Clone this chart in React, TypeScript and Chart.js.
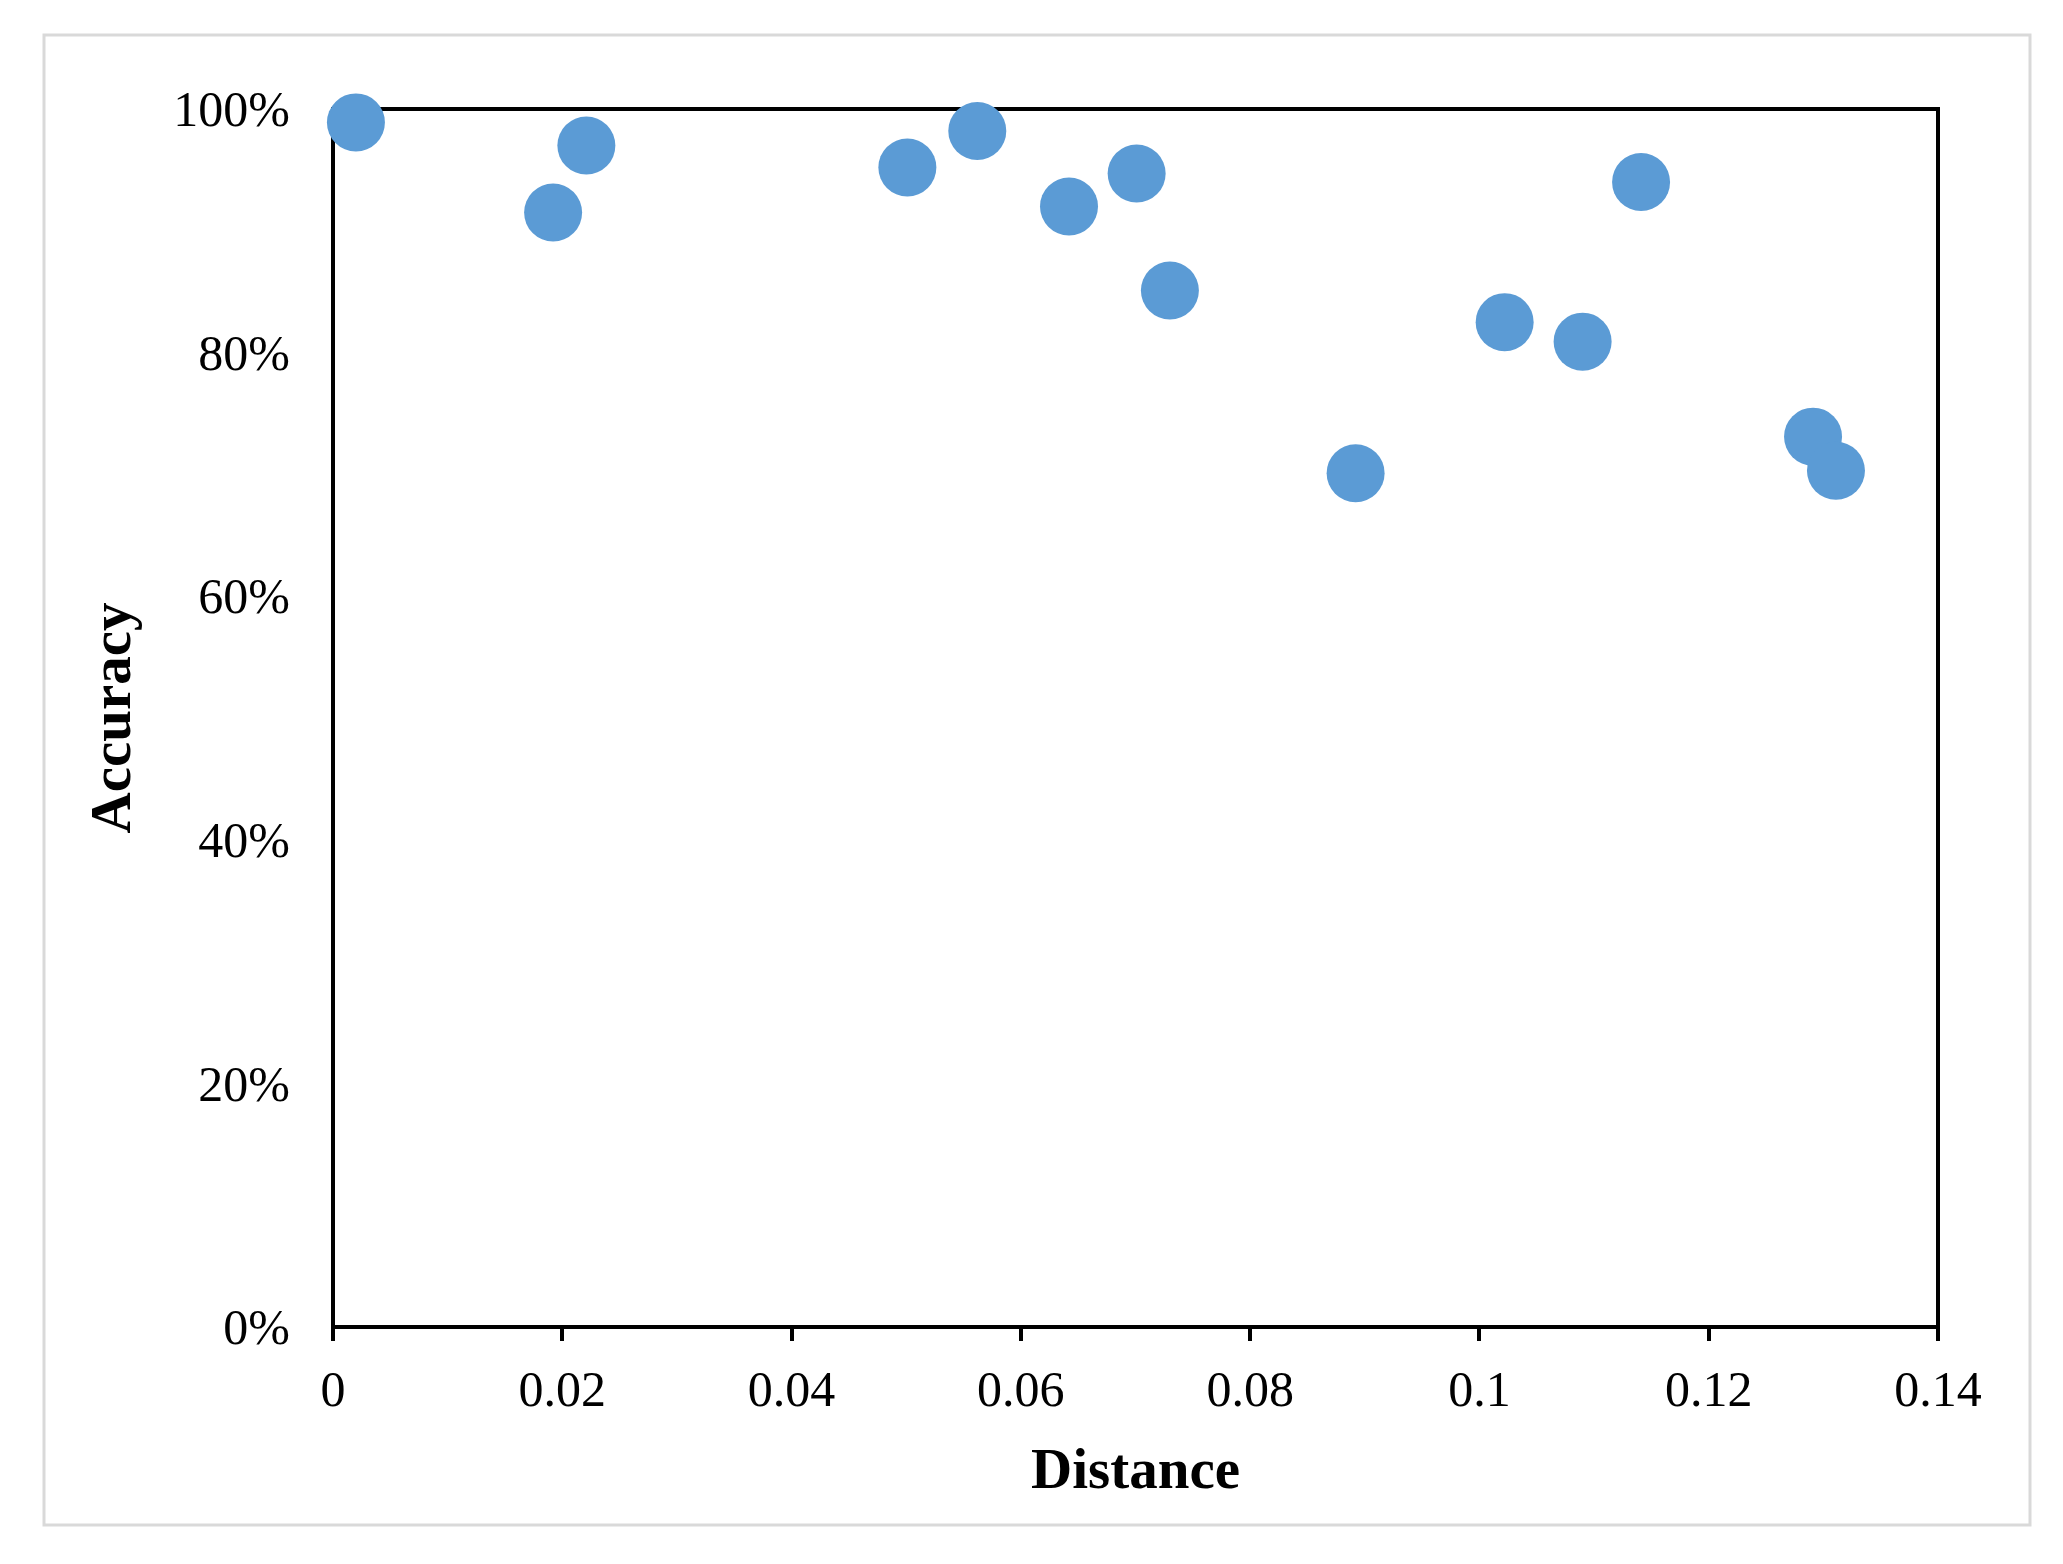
import React, { useEffect, useRef } from "react";
import { Chart, registerables } from "chart.js";

Chart.register(...registerables);

// Data
const distance = [0.002, 0.0192, 0.0221, 0.0501, 0.0562, 0.0642, 0.0701, 0.073, 0.0892, 0.1022, 0.109, 0.1141, 0.1291, 0.1311];
const accuracy = [98.9, 91.5, 97.0, 95.2, 98.2, 92.0, 94.7, 85.1, 70.1, 82.5, 80.9, 94.0, 73.1, 70.3];

const xTickValues = [0, 0.02, 0.04, 0.06, 0.08, 0.1, 0.12, 0.14];
const xTickLabels = ["0", "0.02", "0.04", "0.06", "0.08", "0.1", "0.12", "0.14"];
const yTickValues = [0, 20, 40, 60, 80, 100];
const yTickLabels = ["0%", "20%", "40%", "60%", "80%", "100%"];

const xTitle = "Distance";
const yTitle = "Accuracy";

const FONT = '"Liberation Serif", "Times New Roman", serif';
const POINT_COLOR = "#5B9BD5";

const W = 2063;
const H = 1564;

const framePlugin = {
  id: "frame",
  beforeDraw(chart: any) {
    const ctx = chart.ctx;
    ctx.save();
    ctx.fillStyle = "#ffffff";
    ctx.fillRect(0, 0, chart.width, chart.height);
    ctx.strokeStyle = "#d9d9d9";
    ctx.lineWidth = 3;
    ctx.strokeRect(44, 35, 1986, 1490);
    ctx.restore();
  },
  beforeDatasetsDraw(chart: any) {
    const { ctx, chartArea } = chart;
    ctx.save();
    ctx.strokeStyle = "#000000";
    ctx.lineWidth = 4;
    ctx.strokeRect(chartArea.left, chartArea.top, chartArea.right - chartArea.left, chartArea.bottom - chartArea.top);
    ctx.restore();
  },
};

export default function App() {
  const ref = useRef<HTMLCanvasElement | null>(null);

  useEffect(() => {
    if (!ref.current) return;
    const points = distance.map((d, i) => ({ x: d, y: accuracy[i] }));
    const chart = new Chart(ref.current, {
      type: "scatter",
      data: {
        datasets: [
          {
            data: points,
            pointRadius: 29,
            pointHoverRadius: 29,
            pointBackgroundColor: POINT_COLOR,
            pointBorderWidth: 0,
            borderWidth: 0,
            clip: false as any,
          },
        ],
      },
      options: {
        responsive: false,
        animation: false,
        devicePixelRatio: 1,
        layout: { padding: { left: 0, right: 125, top: 109, bottom: 0 } },
        plugins: {
          legend: { display: false },
          tooltip: { enabled: false },
          title: { display: false },
        },
        scales: {
          x: {
            type: "linear",
            min: 0,
            max: 0.14,
            afterFit: (s: any) => {
              s.height = 237;
            },
            afterBuildTicks: (s: any) => {
              s.ticks = xTickValues.map((v) => ({ value: v }));
            },
            ticks: {
              callback: (v: any) => {
                const i = xTickValues.findIndex((t) => Math.abs(t - Number(v)) < 1e-9);
                return i >= 0 ? xTickLabels[i] : "";
              },
              color: "#000",
              font: { family: FONT, size: 50 },
              padding: 22,
              maxRotation: 0,
              autoSkip: false,
            },
            grid: {
              display: true,
              drawOnChartArea: false,
              drawTicks: true,
              tickLength: 14,
              tickWidth: 4,
              color: "#000",
              lineWidth: 4,
            },
            border: { display: false },
            title: {
              display: true,
              text: xTitle,
              color: "#000",
              font: { family: FONT, size: 57, weight: "bold" },
              padding: { top: 0, bottom: 57 },
            },
          },
          y: {
            type: "linear",
            min: 0,
            max: 100,
            afterFit: (s: any) => {
              s.width = 333;
            },
            afterBuildTicks: (s: any) => {
              s.ticks = yTickValues.map((v) => ({ value: v }));
            },
            ticks: {
              callback: (v: any) => {
                const i = yTickValues.indexOf(Number(v));
                return i >= 0 ? yTickLabels[i] : "";
              },
              color: "#000",
              font: { family: FONT, size: 50 },
              padding: 43,
              labelOffset: 4,
            },
            grid: { display: false, drawTicks: false },
            border: { display: false },
            title: {
              display: true,
              text: yTitle,
              color: "#000",
              font: { family: FONT, size: 57, weight: "bold" },
              padding: { top: 81, bottom: 0 },
            },
          },
        },
      },
      plugins: [framePlugin],
    });
    return () => chart.destroy();
  }, []);

  return (
    <div style={{ position: "absolute", left: 0, top: 0, width: W, height: H, background: "#fff" }}>
      <canvas ref={ref} width={W} height={H} style={{ display: "block", width: W, height: H }} />
    </div>
  );
}
